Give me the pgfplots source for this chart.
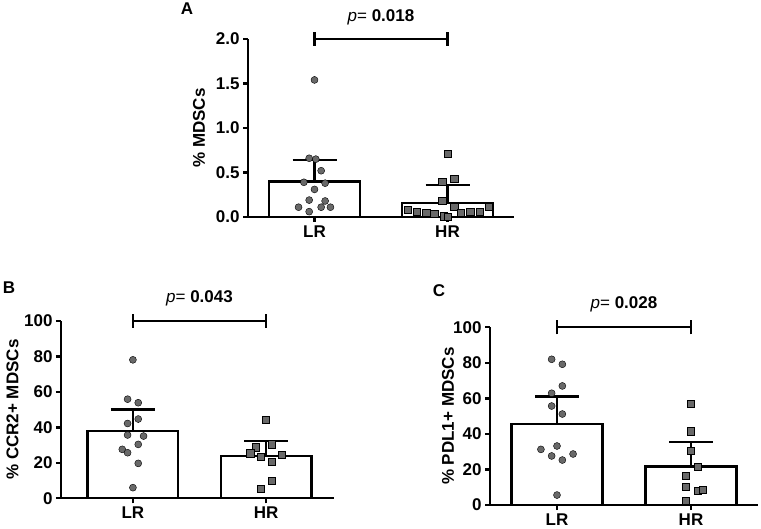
\documentclass[border=0pt]{standalone}
\usepackage{pgfplots}
\pgfplotsset{compat=1.18}
\usepackage{fontspec}
\setmainfont{Liberation Sans}
\definecolor{dotgray}{RGB}{105,105,105}
\newcommand{\fs}{\fontsize{17bp}{20bp}\selectfont}
\tikzset{brk/.style={line width=2.3bp, black}}
\pgfplotsset{
  panel/.style={
    scale only axis, axis lines=left,
    axis line style={-, line width=2.3bp, black},
    enlargelimits=false, clip=false,
    xtick={0,1}, xticklabels={LR,HR},
    tick align=outside, major tick length=5bp,
    tick style={line width=2.3bp, black},
    /pgf/number format/assume math mode=true,
    ticklabel style={font=\fs\bfseries},
    label style={font=\fs\bfseries},
    ylabel style={anchor=center},
  },
  bars/.style={ybar, bar width=0.68, bar shift=0pt, fill=white, draw=black, line width=2.3bp,
    error bars/.cd, y dir=plus, y explicit,
    error bar style={line width=2.3bp, black},
    error mark options={rotate=90, line width=2.3bp, black, mark size=22bp}},
  dots/.style={only marks, mark=*, mark size=3.5bp, mark options={draw=none, fill=dotgray}},
  sqs/.style={only marks, mark=square*, mark size=3.6bp, mark options={draw=none, fill=dotgray}},
}
\begin{document}
\begin{tikzpicture}
\useasboundingbox (0,0) rectangle (761bp,529bp);
% ---------- Panel A ----------
\begin{axis}[panel, at={(248bp,312bp)}, anchor=south west,
  width=266bp, height=178bp, xmin=-0.5, xmax=1.5, ymin=0, ymax=2,
  ytick={0,0.5,1,1.5,2},
  yticklabel style={/pgf/number format/.cd, fixed, fixed zerofill, precision=1},
  ylabel={\% MDSCs}, ylabel style={at={(axis description cs:-0.184,0.5)}}]
\addplot[bars] coordinates {(0,0.40) +- (0,0.24) (1,0.16) +- (0,0.20)};
\addplot[dots] coordinates {
(0,1.54) (-0.04,0.66) (0.01,0.65) (0.05,0.52) (-0.08,0.39) (0.08,0.38)
(0.0,0.31) (-0.04,0.19) (0.08,0.18) (-0.12,0.11) (0.05,0.11) (0.12,0.11) (-0.04,0.06)};
\addplot[sqs] coordinates {
(1,0.71) (0.96,0.40) (1.05,0.43) (0.96,0.18) (1.05,0.12) (0.70,0.08) (0.77,0.06)
(0.84,0.05) (0.90,0.04) (0.97,0.01) (1.0,0.0) (1.10,0.05) (1.17,0.06) (1.24,0.06) (1.31,0.12)};
\draw[brk] (axis cs:0,2) -- (axis cs:1,2);
\draw[brk] ([yshift=-7bp]axis cs:0,2) -- ([yshift=7bp]axis cs:0,2);
\draw[brk] ([yshift=-7bp]axis cs:1,2) -- ([yshift=7bp]axis cs:1,2);
\node[font=\fs] at (axis cs:0.5,2) [yshift=22bp] {\textit{p}= \textbf{0.018}};
\end{axis}
% ---------- Panel B ----------
\begin{axis}[panel, at={(61bp,30.7bp)}, anchor=south west,
  width=273bp, height=177.3bp, xmin=-0.54, xmax=1.51, ymin=0, ymax=100,
  ytick={0,20,40,60,80,100},
  ylabel={\% CCR2+ MDSCs}, ylabel style={at={(axis description cs:-0.178,0.5)}}]
\addplot[bars] coordinates {(0,38.0) +- (0,12.0) (1,23.8) +- (0,8.7)};
\addplot[dots] coordinates {
(0,78.1) (-0.04,55.9) (0.04,53.9) (0.04,44.7) (-0.04,42.2) (-0.04,35.7) (0.08,35.1)
(0.04,30.4) (-0.08,27.6) (-0.04,25.7) (0.04,19.7) (0,6.0)};
\addplot[sqs] coordinates {
(1,44.2) (0.92,28.8) (1.04,30.5) (0.88,25.4) (0.96,23.5) (1.12,24.8) (1.04,20.7)
(1.04,9.9) (0.96,5.6)};
\draw[brk] (axis cs:0,100) -- (axis cs:1,100);
\draw[brk] ([yshift=-7bp]axis cs:0,100) -- ([yshift=7bp]axis cs:0,100);
\draw[brk] ([yshift=-7bp]axis cs:1,100) -- ([yshift=7bp]axis cs:1,100);
\node[font=\fs] at (axis cs:0.5,100) [yshift=23bp] {\textit{p}= \textbf{0.043}};
\end{axis}
% ---------- Panel C ----------
\begin{axis}[panel, at={(490bp,24bp)}, anchor=south west,
  width=268bp, height=177.7bp, xmin=-0.5, xmax=1.5, ymin=0, ymax=100,
  ytick={0,20,40,60,80,100},
  ylabel={\% PDL1+ MDSCs}, ylabel style={at={(axis description cs:-0.157,0.5)}}]
\addplot[bars] coordinates {(0,45.7) +- (0,15.3) (1,21.7) +- (0,13.9)};
\addplot[dots] coordinates {
(-0.04,82.0) (0.04,79.2) (0.04,67.0) (-0.04,62.9) (-0.04,55.7) (0.04,51.2) (0,33.2)
(-0.12,31.3) (0.12,28.7) (-0.04,27.6) (0.04,25.3) (0,5.6)};
\addplot[sqs] coordinates {
(1,56.8) (1,41.5) (1,30.6) (1.05,21.6) (0.96,16.3) (0.96,10.3) (1.05,8.1) (1.09,8.8) (0.96,2.4)};
\draw[brk] (axis cs:0,100) -- (axis cs:1,100);
\draw[brk] ([yshift=-7bp]axis cs:0,100) -- ([yshift=7bp]axis cs:0,100);
\draw[brk] ([yshift=-7bp]axis cs:1,100) -- ([yshift=7bp]axis cs:1,100);
\node[font=\fs] at (axis cs:0.5,100) [yshift=23bp] {\textit{p}= \textbf{0.028}};
\end{axis}
% panel letters
\node[font=\fs\bfseries] at (187bp,520bp) {A};
\node[font=\fs\bfseries] at (9bp,241bp) {B};
\node[font=\fs\bfseries] at (439bp,238bp) {C};
\end{tikzpicture}
\end{document}
